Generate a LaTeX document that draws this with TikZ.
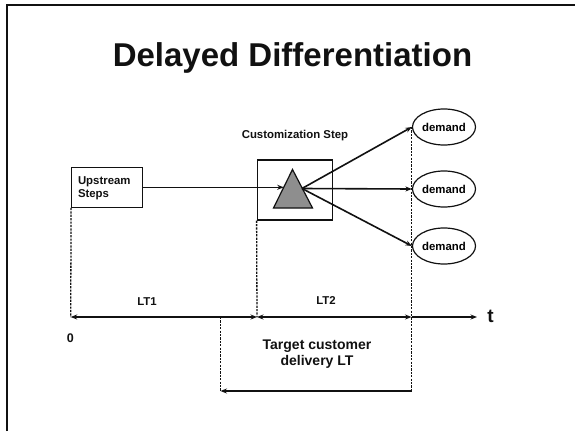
\documentclass[tikz,border=0pt]{standalone}
\usepackage{fontspec}
\setmainfont{Liberation Sans}
\usetikzlibrary{arrows.meta,shapes.geometric}

\definecolor{ink}{HTML}{111111}
\definecolor{trifill}{HTML}{8E8E8E}

\tikzset{
  lbl/.style={font=\bfseries\fontsize{11.4}{12.7}\selectfont, text=ink, inner sep=0pt},
  stepbox/.style={draw=ink, line width=1.2pt, rectangle, inner sep=0pt},
  demandnode/.style={draw=ink, line width=1.2pt, ellipse, minimum width=63pt, minimum height=36pt, inner sep=0pt, font=\bfseries\fontsize{11.4}{12}\selectfont},
  flow/.style={draw=ink, line width=1.6pt, -{Stealth[length=6.5pt,width=5pt]}},
  guide/.style={draw=ink, line width=1.3pt, dash pattern=on 2.2pt off 1.2pt},
  axisline/.style={draw=ink, line width=1.6pt}
}

\begin{document}
\begin{tikzpicture}[x=1pt,y=-1pt]
  \useasboundingbox (0,0) rectangle (575,431);
  \fill[white] (0,0) rectangle (575,431);

  % slide frame
  \draw[ink, line width=1.6pt] (7,431) -- (7,5) -- (575,5);

  % title
  \node[anchor=base, inner sep=0pt, font=\bfseries\fontsize{33}{36}\selectfont, text=ink] (title) at (292.5,66.5) {Delayed Differentiation};

  % upstream steps
  \node[stepbox, minimum width=70.6pt, minimum height=40pt] (up) at (107,187.3) {};
  \node[lbl, text width=58pt, align=left] (uptxt) at (107,188) {Upstream\\Steps};

  % customization step with triangle
  \node[stepbox, minimum width=75.6pt, minimum height=60pt] (cust) at (295,190) {};
  \node[lbl] (custtxt) at (295,136) {Customization Step};
  \coordinate (apex) at (292.5,169.5);
  \coordinate (bl) at (273.5,208);
  \coordinate (br) at (312.5,208);
  \draw[ink, line width=1.2pt, fill=trifill] (apex) -- (bl) -- (br) -- cycle;
  \coordinate (triin) at (283.7,187.3);
  \coordinate (triout) at (302,188.5);

  % demand nodes
  \node[demandnode] (d1) at (444,127) {demand};
  \node[demandnode] (d2) at (444,189) {demand};
  \node[demandnode] (d3) at (444,246) {demand};

  % material flow
  \draw[flow] (up.east |- triin) -- (triin);
  \draw[flow] (triout) -- (d1.west);
  \draw[flow] (triout) -- (d2.west);
  \draw[flow] (triout) -- (d3.west);

  % time axis
  \coordinate (t0) at (70.7,317);
  \coordinate (t1) at (257,317);
  \coordinate (t2) at (411.5,317);
  \coordinate (tend) at (477,317);
  \coordinate (tdue) at (220.5,317);
  \coordinate (b0) at (220.5,391);
  \coordinate (b1) at (411.5,391);
  \coordinate (dtop) at (411.5,127);

  % guide lines
  \draw[guide] (up.south west) -- (t0);
  \draw[guide] (cust.south west) -- (t1);
  \draw[guide] (dtop) -- (b1);
  \draw[guide] (tdue) -- (b0);

  % lead time arrows
  \draw[axisline, {Stealth[length=6.5pt,width=5pt]}-{Stealth[length=6.5pt,width=5pt]}] (t0) -- (t1);
  \draw[axisline, {Stealth[length=6.5pt,width=5pt]}-{Stealth[length=6.5pt,width=5pt]}] (t1) -- (t2);
  \draw[axisline, -{Stealth[length=6.5pt,width=5pt]}] (t2) -- (tend);
  \draw[axisline, -{Stealth[length=6.5pt,width=5pt]}] (b1) -- (b0);

  % axis labels
  \node[lbl] (lt1) at (147,302) {LT1};
  \node[lbl] (lt2) at (326,301) {LT2};
  \node[lbl, font=\bfseries\fontsize{12.5}{14}\selectfont] (zero) at (70.3,338) {0};
  \node[inner sep=0pt, font=\bfseries\fontsize{19}{20}\selectfont, text=ink] (tlabel) at (490.5,316) {t};
  \node[lbl, font=\bfseries\fontsize{14}{16.3}\selectfont, align=center] (target) at (317,354) {Target customer\\delivery LT};
\end{tikzpicture}
\end{document}
